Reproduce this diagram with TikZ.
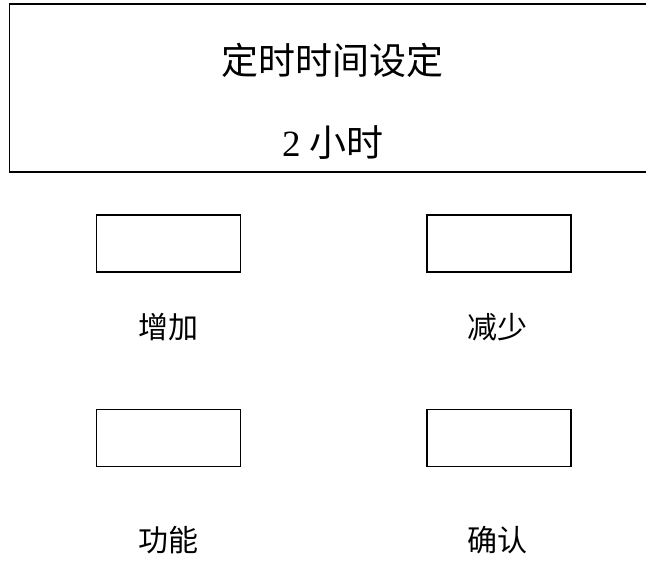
\documentclass[tikz,border=0pt]{standalone}
\usepackage{fontspec}
\setmainfont{Liberation Serif}
\newfontfamily\cjk{Noto Sans CJK SC}
\begin{document}
\begin{tikzpicture}[x=1pt,y=-1pt,
  btn/.style={draw,line width=1.6pt,minimum width=144pt,minimum height=57pt,inner sep=0pt},
  lbl/.style={font=\fontsize{30}{33}\selectfont\cjk,inner sep=0pt},
  big/.style={font=\fontsize{37}{40}\selectfont,inner sep=0pt}]
\clip (0,0) rectangle (646,563);
\useasboundingbox (0,0) rectangle (646,563);
\draw[line width=1.8pt] (680,4) -- (9.5,4) -- (9.5,172) -- (680,172);
\node[big] (title) at (332,60) {\cjk 定时时间设定};
\node[big] (value) at (333,143) {2 {\cjk 小时}};
\node[btn] (b1) at (168.5,243.5) {};
\node[btn] (b2) at (499,243.5) {};
\node[btn] (b3) at (168.5,438) {};
\node[btn] (b4) at (499,438) {};
\node[lbl] (l1) at (168,327) {增加};
\node[lbl] (l2) at (497,327) {减少};
\node[lbl] (l3) at (168,540) {功能};
\node[lbl] (l4) at (497,540) {确认};
\end{tikzpicture}
\end{document}
